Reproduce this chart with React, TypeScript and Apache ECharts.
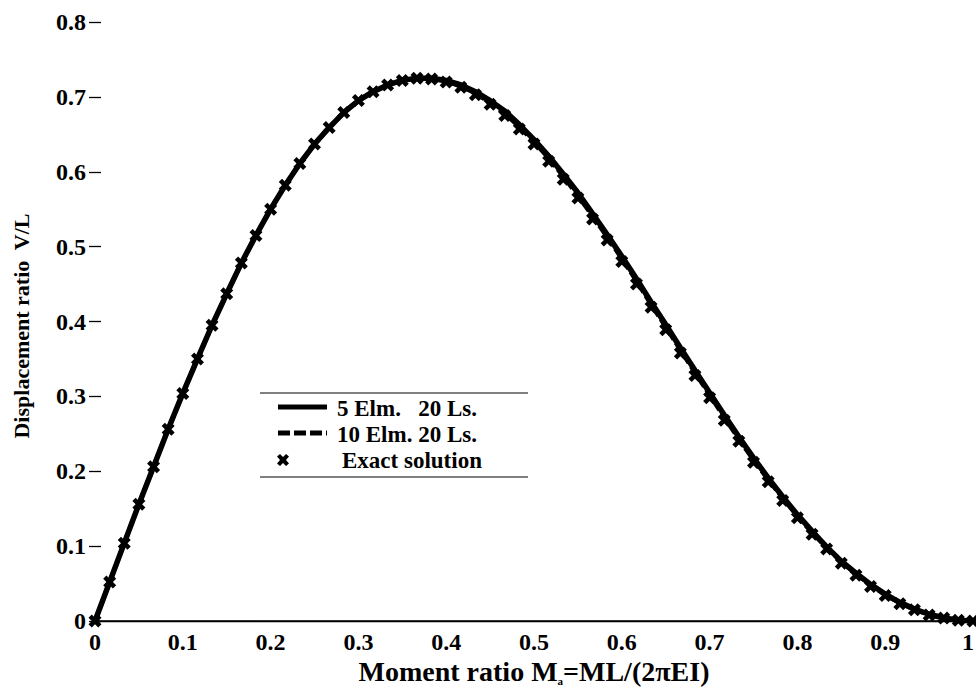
import React, { useEffect, useRef } from "react";
import * as echarts from "echarts";

// Moment ratio sample points (shared by all series)
const momentX: number[] = [
  0, 0.0167, 0.0333, 0.05, 0.0667, 0.0833, 0.1, 0.1167, 0.1333, 0.15,
  0.1667, 0.1833, 0.2, 0.2167, 0.2333, 0.25, 0.2667, 0.2833, 0.3, 0.3167,
  0.3333, 0.35, 0.3667, 0.3833, 0.4, 0.4167, 0.4333, 0.45, 0.4667, 0.4833,
  0.5, 0.5167, 0.5333, 0.55, 0.5667, 0.5833, 0.6, 0.6167, 0.6333, 0.65,
  0.6667, 0.6833, 0.7, 0.7167, 0.7333, 0.75, 0.7667, 0.7833, 0.8, 0.8167,
  0.8333, 0.85, 0.8667, 0.8833, 0.9, 0.9167, 0.9333, 0.95, 0.9667, 0.9833, 1,
];
// Exact solution (markers)
const exactY: number[] = [
  0, 0.052, 0.104, 0.156, 0.206, 0.256, 0.304, 0.35, 0.395, 0.437,
  0.478, 0.515, 0.55, 0.582, 0.611, 0.637, 0.659, 0.679, 0.695, 0.707,
  0.716, 0.722, 0.725, 0.724, 0.72, 0.713, 0.703, 0.69, 0.675, 0.657,
  0.637, 0.614, 0.59, 0.565, 0.537, 0.509, 0.48, 0.45, 0.419, 0.389,
  0.358, 0.328, 0.298, 0.268, 0.24, 0.212, 0.186, 0.161, 0.138, 0.116,
  0.096, 0.077, 0.061, 0.046, 0.034, 0.023, 0.015, 0.008, 0.004, 0.001, 0,
];
// 5 elements, 20 load steps (solid)
const elm5Y: number[] = [
  0, 0.052, 0.104, 0.156, 0.206, 0.256, 0.304, 0.35, 0.395, 0.437,
  0.478, 0.515, 0.55, 0.582, 0.611, 0.637, 0.659, 0.679, 0.695, 0.707,
  0.716, 0.722, 0.725, 0.725, 0.722, 0.716, 0.707, 0.695, 0.681, 0.663,
  0.643, 0.621, 0.597, 0.572, 0.544, 0.516, 0.487, 0.457, 0.426, 0.396,
  0.365, 0.335, 0.305, 0.275, 0.246, 0.218, 0.191, 0.166, 0.142, 0.12,
  0.099, 0.08, 0.064, 0.049, 0.036, 0.025, 0.016, 0.009, 0.004, 0.001, 0,
];
// 10 elements, 20 load steps (dashed)
const elm10Y: number[] = [
  0, 0.052, 0.104, 0.156, 0.206, 0.256, 0.304, 0.35, 0.395, 0.437,
  0.478, 0.515, 0.55, 0.582, 0.611, 0.637, 0.659, 0.679, 0.695, 0.707,
  0.716, 0.722, 0.725, 0.724, 0.721, 0.714, 0.705, 0.692, 0.678, 0.66,
  0.64, 0.618, 0.594, 0.568, 0.541, 0.513, 0.484, 0.454, 0.423, 0.393,
  0.362, 0.332, 0.302, 0.272, 0.243, 0.215, 0.189, 0.164, 0.14, 0.118,
  0.098, 0.079, 0.063, 0.048, 0.035, 0.024, 0.015, 0.009, 0.004, 0.001, 0,
];

const legendNames: string[] = ["5 Elm.   20 Ls.", "10 Elm. 20 Ls.", "Exact solution"];

const SERIF = "'Liberation Serif', 'Times New Roman', serif";
const X_PATH =
  "path://M0,3 L3,0 L6,3 L9,0 L12,3 L9,6 L12,9 L9,12 L6,9 L3,12 L0,9 L3,6 Z";

const fmt = (v: number) => {
  if (Math.abs(v) < 1e-9) return "0";
  if (Math.abs(v - 1) < 1e-9) return "{r|1}";
  return v.toFixed(1);
};

export default function App() {
  const ref = useRef<HTMLDivElement>(null);
  useEffect(() => {
    if (!ref.current) return;
    const chart = echarts.init(ref.current, undefined, { renderer: "svg" });
    const labelStyle = {
      color: "#000",
      fontFamily: SERIF,
      fontWeight: "bold" as const,
      fontSize: 24,
    };
    const legendFont = `bold 23px ${SERIF}`;
    chart.setOption({
      animation: false,
      backgroundColor: "#fff",
      grid: {
        left: 95,
        top: 22,
        width: 878,
        height: 599,
        containLabel: false,
        outerBoundsMode: "none",
      },
      xAxis: [
        {
          type: "value",
          min: 0,
          max: 1,
          interval: 0.1,
          position: "bottom",
          axisLine: { show: true, lineStyle: { color: "#000", width: 1.5 } },
          axisTick: { show: false },
          splitLine: { show: false },
          axisLabel: {
            ...labelStyle,
            margin: 9,
            formatter: fmt,
            rich: {
              r: { ...labelStyle, padding: [0, 10, 0, 0] },
            },
          },
        },
        {
          type: "value",
          min: 0,
          max: 1,
          interval: 0.1,
          position: "top",
          axisLine: { show: true, lineStyle: { color: "#000", width: 1.3 } },
          axisTick: { show: false },
          splitLine: { show: false },
          axisLabel: { show: false },
        },
      ],
      yAxis: [
        {
          type: "value",
          min: 0,
          max: 0.8,
          interval: 0.1,
          position: "left",
          axisLine: { show: false },
          axisTick: { show: true, inside: true, length: 6, lineStyle: { color: "#000", width: 1.3 } },
          splitLine: { show: false },
          axisLabel: { ...labelStyle, margin: 9, formatter: fmt },
        },
        {
          type: "value",
          min: 0,
          max: 0.8,
          interval: 0.1,
          position: "right",
          axisLine: { show: false },
          axisTick: { show: true, inside: true, length: 6, lineStyle: { color: "#000", width: 1.3 } },
          splitLine: { show: false },
          axisLabel: { show: false },
        },
      ],
      series: [
        {
          name: legendNames[0],
          type: "line",
          showSymbol: false,
          data: momentX.map((x, i) => [x, elm5Y[i]]),
          lineStyle: { color: "#000", width: 5.5 },
          z: 2,
        },
        {
          name: legendNames[1],
          type: "line",
          showSymbol: false,
          data: momentX.map((x, i) => [x, elm10Y[i]]),
          lineStyle: { color: "#000", width: 4.5, type: [10, 4] },
          z: 3,
        },
        {
          name: legendNames[2],
          type: "scatter",
          symbol: X_PATH,
          symbolSize: 13,
          data: momentX.map((x, i) => [x, exactY[i]]),
          itemStyle: { color: "#000", opacity: 1 },
          z: 4,
        },
      ],
      graphic: [
        { type: "line", shape: { x1: 260, y1: 393, x2: 528, y2: 393 }, style: { stroke: "#000", lineWidth: 1 } },
        { type: "line", shape: { x1: 260, y1: 477, x2: 528, y2: 477 }, style: { stroke: "#000", lineWidth: 1 } },
        { type: "line", shape: { x1: 278, y1: 407, x2: 327, y2: 407 }, style: { stroke: "#000", lineWidth: 5 } },
        { type: "line", shape: { x1: 278, y1: 433, x2: 327, y2: 433 }, style: { stroke: "#000", lineWidth: 5, lineDash: [12, 4] } },
        {
          type: "polygon",
          shape: {
            points: [
              [277, 456.5], [280, 454], [283, 457], [286, 454], [289, 456.5], [286, 460],
              [289, 463.5], [286, 466], [283, 463], [280, 466], [277, 463.5], [280, 460],
            ],
          },
          style: { fill: "#000" },
        },
        {
          type: "text",
          x: 337,
          y: 408,
          style: { text: legendNames[0], font: legendFont, fill: "#000", verticalAlign: "middle" },
        },
        {
          type: "text",
          x: 337,
          y: 434,
          style: { text: legendNames[1], font: legendFont, fill: "#000", verticalAlign: "middle" },
        },
        {
          type: "text",
          x: 342,
          y: 460,
          style: { text: legendNames[2], font: legendFont, fill: "#000", verticalAlign: "middle" },
        },
        {
          type: "text",
          x: 534,
          y: 671,
          style: {
            text: "{m|Moment ratio M}{s|a}{m|=ML/(2πEI)}",
            align: "center",
            verticalAlign: "middle",
            rich: {
              m: { fontFamily: SERIF, fontWeight: "bold", fontSize: 28, fill: "#000", lineHeight: 30 },
              s: { fontFamily: SERIF, fontWeight: "bold", fontSize: 11, fill: "#000", lineHeight: 30, verticalAlign: "bottom", padding: [16, 0, 0, 0] },
            },
          },
        },
        {
          type: "text",
          x: 21,
          y: 326,
          rotation: Math.PI / 2,
          style: {
            text: "Displacement ratio  V/L",
            font: `bold 22px ${SERIF}`,
            fill: "#000",
            align: "center",
            verticalAlign: "middle",
          },
        },
      ],
    });
    return () => chart.dispose();
  }, []);
  return (
    <div
      ref={ref}
      style={{ position: "fixed", left: 0, top: 0, width: 976, height: 692, background: "#fff" }}
    />
  );
}
